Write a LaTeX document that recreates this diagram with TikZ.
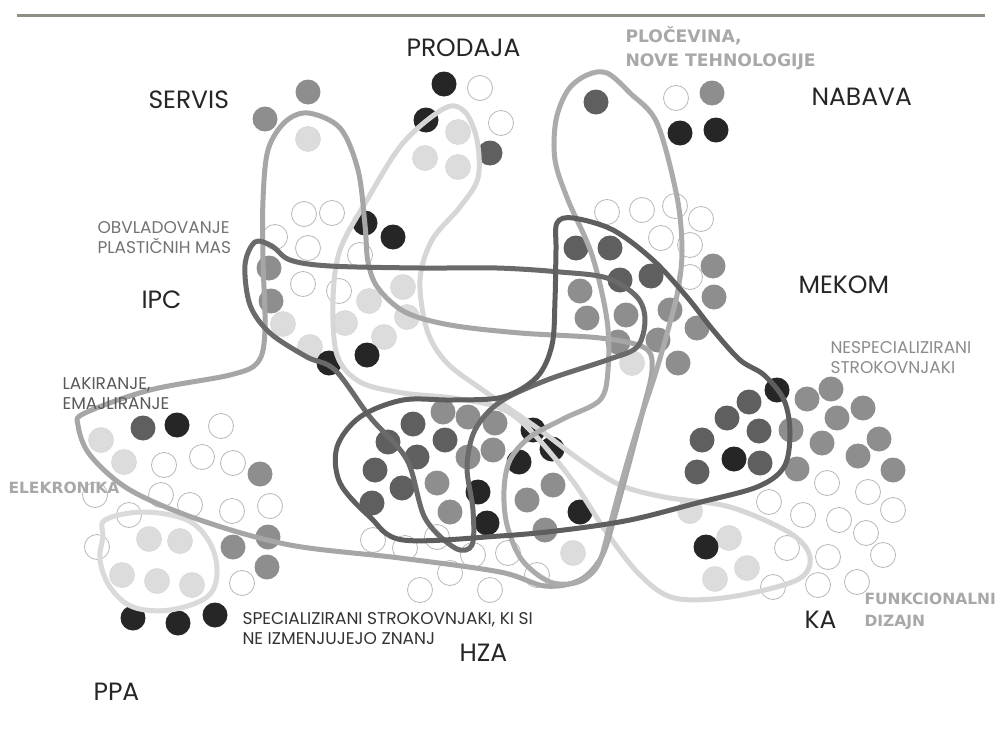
\documentclass[tikz,border=0pt]{standalone}
\usepackage{fontspec}
\setmainfont{Poppins}
\newfontfamily\boldfont{DejaVu Sans}
\definecolor{ck}{HTML}{262626}
\definecolor{cd}{HTML}{5F5F5F}
\definecolor{cm}{HTML}{8E8E8E}
\definecolor{cl}{HTML}{DCDCDC}
\definecolor{cw}{HTML}{B8B8B8}
\definecolor{lbig}{HTML}{A6A6A6}
\definecolor{lploc}{HTML}{ABABAB}
\definecolor{lprod}{HTML}{D6D6D6}
\definecolor{lipc}{HTML}{6A6A6A}
\definecolor{lmek}{HTML}{5E5E5E}
\definecolor{lppa}{HTML}{DADADA}
\definecolor{tbold}{HTML}{A8A8A8}
\definecolor{rule}{HTML}{8E8E84}
\begin{document}
\begin{tikzpicture}[x=1pt,y=-1pt,
  kc/.style={fill=ck},
  dc/.style={fill=cd},
  mc/.style={fill=cm},
  lc/.style={fill=cl,draw=cw!60,line width=0.5pt},
  wc/.style={fill=white,draw=cw,line width=0.8pt},
  blob/.style={line width=5pt,line join=round,line cap=round},
  big/.style={text=black!85,font=\fontsize{25}{25}\selectfont},
  small/.style={font=\fontsize{17}{20}\selectfont,align=left},
  bold/.style={text=tbold,font=\boldfont\bfseries\fontsize{15.5}{22}\selectfont,align=left}
]
\useasboundingbox (0,0) rectangle (997,747);
\fill[white] (0,0) rectangle (997,747);
\draw[line width=3pt,color=rule] (17,15) -- (985,15);

% ---------- circles ----------
\foreach \p in {(480,88),(501,123),(676,98),
  (607,212),(642,210),(675,206),(701,219),(661,238),(690,245),(690,277),
  (304,214),(332,213),(275,237),(308,248),(360,255),(303,284),(339,291),
  (221,426),(164,465),(202,457),(233,463),(95,495),(161,495),(190,505),(129,515),(232,511),(270,506),(97,547),(242,583),
  (373,540),(405,548),(437,537),(473,555),(508,553),(537,575),(420,590),(450,573),(490,590),
  (769,502),(827,483),(868,492),(893,510),(803,515),(839,520),(866,533),(787,548),(828,557),(883,555),(773,587),(818,585),(857,582)}
  \filldraw[wc] \p circle (12.5pt);
\foreach \p in {(308,139),(458,132),(425,158),(458,167),(283,324),(310,347),(345,323),(369,301),(403,287),(407,317),(384,337),(632,363),
  (101,440),(124,462),(149,539),(180,541),(122,575),(157,581),(192,585),(573,553),(690,511),(729,538),(747,568),(715,579)}
  \filldraw[lc] \p circle (12.5pt);
\foreach \p in {(265,119),(308,92),(269,268),(271,301),(260,474),(233,547),(268,537),(267,567),(712,93),(713,266),(714,297),
  (580,291),(587,318),(626,315),(670,310),(697,328),(658,340),(618,342),(678,363),
  (443,412),(468,417),(495,423),(468,457),(493,450),(437,483),(450,512),(553,485),(527,500),(545,530),
  (807,399),(831,389),(863,408),(837,418),(791,430),(822,443),(879,439),(858,456),(797,469),(893,470)}
  \fill[mc] \p circle (12.5pt);
\foreach \p in {(490,153),(143,428),(596,102),(576,248),(610,248),(620,280),(651,276),
  (413,424),(388,442),(445,440),(417,457),(375,470),(402,488),(372,503),
  (749,402),(727,418),(759,431),(702,440),(697,472),(760,463)}
  \fill[dc] \p circle (12.5pt);
\foreach \p in {(444,84),(426,120),(365,223),(393,237),(329,363),(367,355),(177,425),(133,618),(178,623),(215,615),
  (680,133),(716,130),(478,492),(487,523),(519,462),(533,430),(552,449),(580,512),(777,390),(734,459),(706,547)}
  \fill[kc] \p circle (12.5pt);

% ---------- blobs ----------
% PPA
\draw[blob,lppa] plot[smooth cycle,tension=0.6] coordinates {(105,520) (143,512) (187,520) (210,543) (217,573) (207,597) (170,610) (133,607) (110,587) (100,560) (103,537)};
% Prodaja / KA band
\draw[blob,lprod] plot[smooth cycle,tension=0.55] coordinates {(445,108) (465,112) (477,140) (478,178) (460,207) (432,240) (420,280) (427,330) (447,363) (487,393) (540,430) (580,460) (620,485) (664,497) (730,507) (790,533) (810,557) (797,580) (730,597) (674,598) (640,575) (607,533) (572,480) (530,430) (500,408) (453,398) (403,393) (360,382) (337,355) (333,300) (340,250) (367,200) (403,143)};
% big SERVIS / Lakiranje blob
\draw[blob,lbig] plot[smooth cycle,tension=0.55] coordinates {(308,113) (340,128) (358,170) (365,225) (368,262) (378,288) (405,312) (450,325) (520,333) (600,338) (645,348) (652,370) (643,410) (630,460) (615,515) (602,556) (580,580) (545,586) (500,572) (400,558) (290,545) (200,520) (130,490) (90,455) (78,425) (85,413) (150,390) (230,375) (258,362) (265,330) (263,260) (263,200) (268,150) (285,122)};
% Plocevina
\draw[blob,lploc] plot[smooth cycle,tension=0.55] coordinates {(587,75) (607,73) (630,93) (657,123) (677,197) (682,250) (678,290) (668,330) (655,375) (640,420) (625,470) (610,525) (598,565) (578,582) (550,582) (522,560) (507,525) (504,490) (510,460) (530,437) (565,418) (600,400) (608,370) (607,320) (592,255) (568,200) (555,160) (556,120) (568,90)};
% IPC
\draw[blob,lipc] plot[smooth cycle,tension=0.55] coordinates {(255,242) (272,246) (290,260) (330,266) (420,268) (497,268) (560,272) (607,278) (637,297) (645,320) (637,347) (607,360) (547,380) (500,402) (475,430) (467,467) (473,510) (472,545) (455,548) (425,518) (407,460) (370,417) (335,370) (307,357) (270,333) (250,305) (245,265)};
% MEKOM / HZA
\draw[blob,lmek] plot[smooth cycle,tension=0.55] coordinates {(557,223) (573,218) (613,230) (653,260) (687,297) (713,330) (740,360) (764,375) (784,400) (790,433) (784,467) (757,487) (697,503) (630,520) (564,530) (500,536) (403,540) (370,517) (340,483) (337,447) (360,417) (403,400) (453,400) (503,397) (537,377) (552,345) (555,300) (556,250)};

% ---------- labels ----------
\node[big,anchor=west] (prodaja) at (403,48) {PRODAJA};
\node[big,anchor=west] (servis) at (145,100) {SERVIS};
\node[big,anchor=west] (nabava) at (808,97) {NABAVA};
\node[big,anchor=west] (ipc) at (138,300) {IPC};
\node[big,anchor=west] (mekom) at (795,285) {MEKOM};
\node[big,anchor=west] (hza) at (456,653) {HZA};
\node[big,anchor=west] (ppa) at (90,692) {PPA};
\node[big,anchor=west] (ka) at (801,620) {KA};
\node[bold,font=\boldfont\bfseries\fontsize{17.2}{24}\selectfont,anchor=west] (ploc) at (622,48) {PLOČEVINA,\\NOVE TEHNOLOGIJE};
\node[bold,anchor=west] (elek) at (5,488) {ELEKRONIKA};
\node[bold,anchor=west] (funk) at (861,611) {FUNKCIONALNI\\DIZAJN};
\node[small,text=black!55,anchor=west] (obvl) at (94,238) {OBVLADOVANJE\\PLASTIČNIH MAS};
\node[small,text=black!45,anchor=west] (nesp) at (827,358) {NESPECIALIZIRANI\\STROKOVNJAKI};
\node[small,text=black!65,anchor=west] (laki) at (59,394) {LAKIRANJE,\\EMAJLIRANJE};
\node[small,text=black!80,anchor=west] (spec) at (239,629) {SPECIALIZIRANI STROKOVNJAKI, KI SI\\NE IZMENJUJEJO ZNANJ};
\end{tikzpicture}
\end{document}
